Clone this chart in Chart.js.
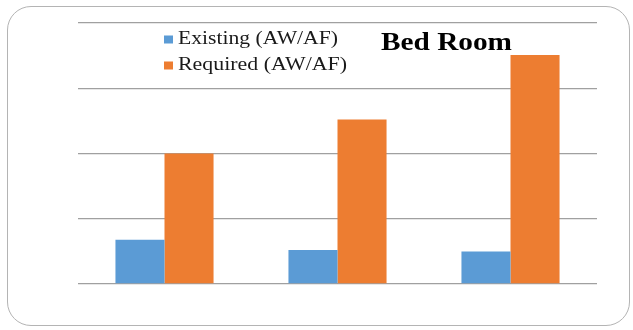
<!DOCTYPE html>
<html>
<head>
<meta charset="utf-8">
<script src="https://cdn.jsdelivr.net/npm/chart.js@4/dist/chart.umd.min.js"></script>
<style>
  html, body { margin: 0; padding: 0; background: #fff; }
  #wrap { position: relative; width: 633px; height: 330px; }
  #frame {
    position: absolute; left: 7px; top: 6px; width: 623px; height: 320px;
    border: 1.5px solid #b4b4b4; border-radius: 24px; box-sizing: border-box;
  }
  canvas { position: absolute; left: 0; top: 0; }
</style>
</head>
<body>
<div id="wrap">
  <div id="frame"></div>
  <canvas id="myChart" width="633" height="330"></canvas>
</div>
<script>
const categories = ["1", "2", "3"];
const existing = [0.068, 0.052, 0.050];
const required = [0.200, 0.252, 0.351];
const chartTitle = "Bed Room";

// draw text stretched to a given width (the serif here is wider than Liberation)
const stretchText = (ctx, text, x, y, width) => {
  const w = ctx.measureText(text).width;
  ctx.save();
  ctx.translate(x, y);
  ctx.scale(width / w, 1);
  ctx.fillText(text, 0, 0);
  ctx.restore();
};

// legend + title drawn inside the plot area
const insideLabels = {
  id: "insideLabels",
  afterDraw(chart) {
    const ctx = chart.ctx;
    ctx.save();
    ctx.textBaseline = "middle";
    ctx.font = "19px 'Liberation Serif'";
    chart.data.datasets.forEach((ds, i) => {
      const y = 39.5 + i * 26;
      ctx.fillStyle = ds.backgroundColor;
      ctx.fillRect(164, y - 4, 9, 8);
      ctx.fillStyle = "#1a1a1a";
      stretchText(ctx, ds.label, 178, y, i === 0 ? 160 : 169);
    });
    ctx.font = "bold 25px 'Liberation Serif'";
    ctx.fillStyle = "#000";
    stretchText(ctx, chartTitle, 381, 44, 131);
    ctx.restore();
  },
};

const configChart = {
  type: "bar",
  data: {
    labels: categories,
    datasets: [
      { label: "Existing (AW/AF)", data: existing, backgroundColor: "#5B9BD5" },
      { label: "Required (AW/AF)", data: required, backgroundColor: "#ED7D31" },
    ],
  },
  options: {
    responsive: false,
    animation: false,
    layout: { padding: { left: 78, right: 36, top: 23, bottom: 38 } },
    datasets: {
      bar: { barPercentage: 1, categoryPercentage: 0.567 },
    },
    plugins: { legend: { display: false }, tooltip: { enabled: false } },
    scales: {
      x: {
        ticks: { display: false },
        grid: { display: false },
        border: { display: false },
      },
      y: {
        min: 0,
        max: 0.4,
        ticks: { display: false, stepSize: 0.1 },
        grid: { color: "#a0a0a0", lineWidth: 1.3, drawTicks: false },
        border: { display: false },
      },
    },
  },
  plugins: [insideLabels],
};

new Chart(document.querySelector("#myChart"), configChart);
</script>
</body>
</html>
